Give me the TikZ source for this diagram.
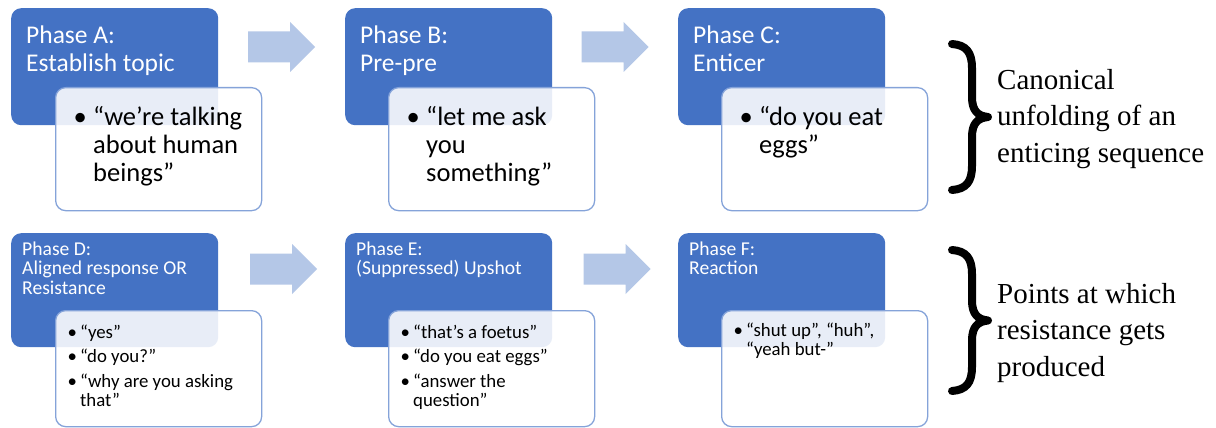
\documentclass[tikz,border=0pt]{standalone}
\usepackage{fontspec}
\setmainfont{Carlito}
\newfontfamily\tnr{Liberation Serif}
\definecolor{phblue}{HTML}{4472C4}
\colorlet{wborder}{phblue!65!white}
\colorlet{arrowfill}{phblue!40!white}
\newcommand\bA{\makebox[12pt][c]{\textbullet}\hspace{7pt}}
\newcommand\iA{\hspace*{19pt}}
\newcommand\bB{\makebox[10pt][c]{\textbullet}\hspace{3pt}}
\newcommand\iB{\hspace*{13pt}}
\tikzset{
 bluebox/.style={fill=phblue, rounded corners=10pt, anchor=north west, inner sep=0pt},
 whitebox/.style={fill=white, fill opacity=0.88, draw=wborder, line width=1.3pt, rounded corners=10pt, anchor=north west, inner sep=0pt},
 bigtitle/.style={text=white, anchor=base west, align=left, inner sep=0pt, font=\fontsize{25.5}{28}\selectfont},
 smalltitle/.style={text=white, anchor=base west, align=left, inner sep=0pt, font=\fontsize{19.6}{19.5}\selectfont},
 bigitem/.style={anchor=base west, align=left, inner sep=0pt, font=\fontsize{26.5}{28}\selectfont},
 smallitem/.style={anchor=base west, align=left, inner sep=0pt, font=\fontsize{18.8}{19.5}\selectfont},
 sidetext/.style={anchor=base west, align=left, inner sep=0pt, font=\tnr\fontsize{29}{36.5}\selectfont},
 bracestroke/.style={line width=8pt, line cap=round, line join=round},
 blockarrow/.style={fill=arrowfill}
}
\newcommand\blockarr[1]{\fill[blockarrow, shift={(#1)}] (0,-15.5) -- (42,-15.5) -- (42,-25) -- (67,0) -- (42,25) -- (42,15.5) -- (0,15.5) -- cycle;}
\newcommand\bracepath[2]{% #1 = top y, #2 = bottom y
 \draw[bracestroke] (952,#1) .. controls (966,#1+1) and (972,#1+8) .. (972,#1+24)
   -- (972,{(#1+#2)/2-20}) .. controls (972,{(#1+#2)/2-6}) and (978,{(#1+#2)/2-1}) .. (988,{(#1+#2)/2})
   .. controls (978,{(#1+#2)/2+1}) and (972,{(#1+#2)/2+6}) .. (972,{(#1+#2)/2+20})
   -- (972,#2-24) .. controls (972,#2-8) and (966,#2-1) .. (952,#2);}
\begin{document}
\begin{tikzpicture}[x=1pt,y=-1pt]
\useasboundingbox (0,0) rectangle (1216,428);
\fill[white] (0,0) rectangle (1216,428);

% ---- top row (text nodes anchored at the baseline of their last line)
\node[bluebox, minimum width=207pt, minimum height=117pt] (A) at (11,8) {};
\node[bluebox, minimum width=207pt, minimum height=117pt] (B) at (345,8) {};
\node[bluebox, minimum width=207pt, minimum height=117pt] (C) at (678,8) {};
\node[bigtitle] (At) at (26,71) {Phase A:\\Establish topic};
\node[bigtitle] (Bt) at (360,71) {Phase B:\\Pre-pre};
\node[bigtitle] (Ct) at (693,71) {Phase C:\\Enticer};
\node[whitebox, minimum width=206pt, minimum height=123pt] (Aw) at (55,87) {};
\node[whitebox, minimum width=206pt, minimum height=123pt] (Bw) at (388,87) {};
\node[whitebox, minimum width=206pt, minimum height=123pt] (Cw) at (721,87) {};
\node[bigitem] (Ai) at (74,181) {\bA“we’re talking\\\iA about human\\\iA beings”};
\node[bigitem] (Bi) at (407,181) {\bA“let me ask\\\iA you\\\iA something”};
\node[bigitem] (Ci) at (740,153) {\bA“do you eat\\\iA eggs”};
\coordinate (ab) at (248,47);
\coordinate (bc) at (581.5,47);
\blockarr{ab}
\blockarr{bc}

% ---- bottom row
\node[bluebox, minimum width=207pt, minimum height=114pt] (D) at (11,233) {};
\node[bluebox, minimum width=207pt, minimum height=114pt] (E) at (345,233) {};
\node[bluebox, minimum width=207pt, minimum height=114pt] (F) at (678,233) {};
\node[smalltitle] (Dt) at (22,294) {Phase D:\\Aligned response OR\\Resistance};
\node[smalltitle] (Et) at (356,274.5) {Phase E:\\(Suppressed) Upshot};
\node[smalltitle] (Ft) at (689,274.5) {Phase F:\\Reaction};
\node[whitebox, minimum width=206pt, minimum height=116pt] (Dw) at (55,310) {};
\node[whitebox, minimum width=206pt, minimum height=116pt] (Ew) at (388,310) {};
\node[whitebox, minimum width=206pt, minimum height=116pt] (Fw) at (721,310) {};
\node[smallitem] (Di1) at (67,338) {\bB“yes”};
\node[smallitem] (Di2) at (67,362.5) {\bB“do you?”};
\node[smallitem] (Di3) at (67,406.5) {\bB“why are you asking\\\iB that”};
\node[smallitem] (Ei1) at (400,338) {\bB“that’s a foetus”};
\node[smallitem] (Ei2) at (400,362.5) {\bB“do you eat eggs”};
\node[smallitem] (Ei3) at (400,406.5) {\bB“answer the\\\iB question”};
\node[smallitem] (Fi1) at (733,355.5) {\bB“shut up”, “huh”,\\\iB “yeah but-”};
\coordinate (de) at (250,269);
\coordinate (ef) at (583.5,269);
\blockarr{de}
\blockarr{ef}

% ---- braces and side texts
\bracepath{44}{190}
\bracepath{250}{391}
\node[sidetext] (S1) at (997,162) {Canonical\\unfolding of an\\enticing sequence};
\node[sidetext] (S2) at (997,376) {Points at which\\resistance gets\\produced};
\end{tikzpicture}
\end{document}
